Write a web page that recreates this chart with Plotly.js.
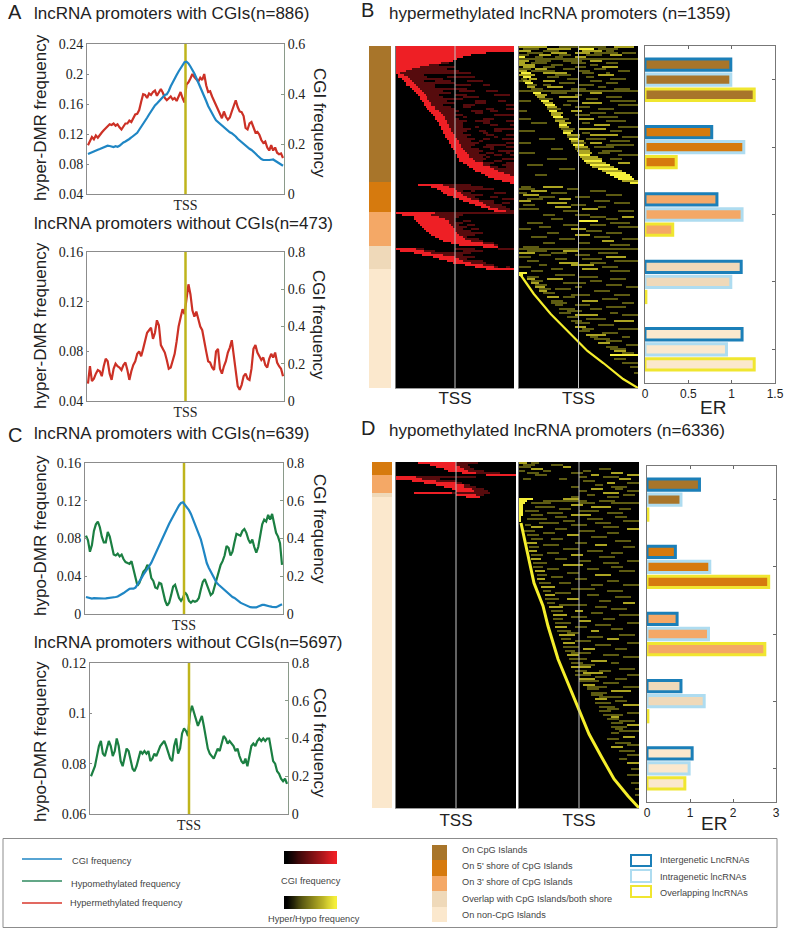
<!DOCTYPE html>
<html>
<head>
<meta charset="utf-8">
<script src="https://cdn.plot.ly/plotly-3.0.1.min.js"></script>
<style>
  html, body { margin: 0; padding: 0; background: #fff; }
  #fig { width: 785px; height: 932px; }
</style>
</head>
<body>
<div id="fig"></div>
<script>
// profile lines, 100 bins across the window around the TSS
const a1Hyper = [.105,.110,.116,.113,.118,.115,.119,.122,.125,.128,.130,.133,.132,.134,.131,.133,.129,.126,.130,.134,.134,.138,.136,.141,.146,.147,.152,.163,.173,.172,.168,.174,.172,.176,.178,.171,.176,.180,.175,.168,.165,.167,.170,.166,.168,.164,.170,.176,.168,.162,.186,.189,.194,.200,.196,.193,.190,.195,.192,.200,.185,.176,.177,.170,.164,.160,.152,.146,.141,.150,.143,.139,.142,.150,.158,.165,.156,.150,.149,.144,.128,.126,.134,.136,.129,.122,.123,.119,.112,.108,.110,.102,.098,.105,.098,.102,.095,.093,.094,.088];
const a1Cgi = [.160,.164,.168,.171,.174,.177,.180,.183,.187,.190,.193,.192,.190,.188,.191,.189,.193,.201,.206,.210,.214,.220,.226,.232,.237,.245,.257,.268,.280,.292,.305,.318,.330,.345,.354,.362,.371,.382,.390,.396,.399,.412,.431,.448,.460,.476,.490,.503,.515,.527,.529,.522,.510,.497,.482,.464,.447,.430,.412,.392,.372,.352,.335,.320,.308,.295,.288,.284,.276,.268,.260,.252,.247,.243,.238,.230,.221,.214,.206,.200,.196,.188,.181,.176,.170,.162,.154,.146,.140,.136,.135,.134,.136,.137,.138,.133,.128,.122,.118,.113];
const a2Hyper = [.054,.068,.056,.058,.062,.065,.064,.060,.068,.074,.072,.062,.057,.066,.070,.068,.067,.065,.069,.071,.065,.057,.064,.069,.072,.078,.080,.076,.082,.088,.095,.097,.099,.090,.095,.105,.101,.085,.082,.079,.073,.066,.067,.072,.078,.088,.100,.107,.114,.110,.124,.134,.126,.113,.108,.112,.106,.100,.097,.087,.080,.072,.071,.067,.065,.080,.082,.066,.062,.068,.072,.079,.083,.089,.075,.062,.052,.049,.053,.060,.062,.058,.057,.066,.082,.085,.079,.076,.073,.075,.069,.067,.074,.078,.075,.079,.071,.068,.066,.060];
const c1Hypo = [.083,.078,.066,.073,.088,.095,.098,.092,.082,.076,.076,.087,.082,.072,.063,.062,.064,.061,.063,.058,.055,.054,.053,.056,.048,.040,.030,.033,.040,.045,.047,.052,.049,.038,.035,.028,.027,.033,.032,.022,.014,.009,.012,.020,.029,.031,.025,.017,.014,.017,.023,.020,.014,.012,.014,.013,.014,.017,.026,.034,.037,.031,.024,.020,.022,.030,.036,.045,.052,.056,.062,.072,.070,.062,.066,.076,.085,.084,.083,.088,.090,.086,.079,.075,.079,.071,.065,.071,.085,.095,.100,.098,.105,.100,.106,.096,.086,.082,.075,.052];
const c1Cgi = [.090,.086,.084,.082,.084,.083,.081,.082,.083,.082,.083,.084,.085,.086,.087,.090,.093,.098,.104,.111,.119,.127,.133,.135,.134,.140,.155,.172,.190,.208,.222,.240,.255,.272,.295,.318,.342,.362,.385,.412,.438,.462,.478,.498,.520,.536,.556,.575,.588,.592,.580,.565,.550,.530,.505,.475,.450,.425,.395,.355,.310,.270,.245,.225,.205,.185,.165,.155,.145,.135,.125,.120,.110,.100,.090,.085,.075,.068,.060,.055,.050,.042,.040,.036,.035,.036,.035,.040,.045,.048,.048,.044,.042,.040,.038,.036,.036,.041,.045,.052];
const c2Hypo = [.075,.077,.079,.083,.087,.089,.084,.083,.086,.089,.087,.083,.085,.090,.087,.081,.079,.083,.086,.085,.081,.078,.077,.079,.082,.085,.084,.085,.084,.085,.081,.082,.084,.083,.085,.087,.088,.089,.087,.084,.082,.081,.087,.090,.084,.086,.092,.094,.093,.091,.100,.103,.100,.098,.095,.097,.099,.095,.091,.086,.084,.083,.082,.084,.086,.085,.088,.091,.090,.088,.089,.088,.087,.085,.086,.083,.081,.080,.082,.079,.083,.087,.088,.087,.089,.090,.089,.090,.089,.090,.090,.086,.081,.080,.077,.076,.074,.073,.074,.072];

const categories = ["On CpG Islands", "On 5' shore of CpG Islands", "On 3' shore of CpG Islands", "Overlap with CpG Islands/both shore", "On non-CpG Islands"];
const typeNames = ["Intergenetic LncRNAs", "Intragenetic lncRNAs", "Overlapping lncRNAs"];

// promoter counts per category (side strips)
const hyperCounts = [540, 119, 135, 91, 473];
const hypoCounts = [0, 238, 330, 71, 5697];

// enrichment ratios, one array per lncRNA type
const hyperErInter = [0.99, 0.77, 0.83, 1.11, 1.12];
const hyperErIntra = [0.99, 1.14, 1.12, 0.99, 0.94];
const hyperErOver = [1.26, 0.36, 0.32, 0.01, 1.26];
const hypoErInter = [1.22, 0.66, 0.70, 0.79, 1.05];
const hypoErIntra = [0.79, 1.46, 1.43, 1.33, 0.98];
const hypoErOver = [0.02, 2.83, 2.74, 0.02, 0.88];

// red heatmap rows: [first bin, end of solid red, end of dark red]
const hyperRedRows = [[0,60,60],[0,60,60],[0,60,60],[0,46,46],[0,38,38],[0,34,34],[0,31,31],[0,29,29],[0,23,27],[0,17,22],[0,12,30],[0,8,26],[0,5,32],[0,2,38],
[1,4,14],[1,6,40],[3,7,24],[4,8,44],[5,9,30],[5,10,48],[7,11,20],[8,12,36],[9,13,52],[10,14,28],[11,15,58],[12,16,42],[12,16,34],[13,17,56],[14,18,46],[14,18,60],[15,20,38],[16,20,60],[17,22,52],[18,23,44],[19,24,60],[20,25,36],[20,25,50],[21,26,60],[22,26,48],[22,27,60],[23,27,42],[23,28,60],[24,28,54],[24,29,47],[25,30,60],[25,30,52],[26,31,60],[27,32,44],[27,32,60],[28,33,56],[28,33,60],[29,34,50],[30,35,60],[30,36,58],[31,37,60],[31,37,48],[32,39,60],[32,40,54],[34,44,60],[36,44,60],[37,48,60],[39,50,60],[40,52,60],[43,55,60],[45,58,60],[47,60,60],[50,60,60],[54,60,60],[58,60,60],
[11,24,38],[18,27,44],[21,30,50],[23,31,40],[24,33,56],[26,34,44],[29,36,52],[32,38,60],[34,42,50],[37,44,58],[40,46,54],[43,48,56],[47,52,58],[50,56,60],
[0,20,60],[3,18,34],[9,22,32],[9,25,30],[10,27,38],[11,27,34],[12,28,40],[13,29,36],[14,30,42],[15,30,38],[17,31,44],[18,32,40],[20,34,36],[22,35,42],[24,38,44],[28,44,50],[32,50,52],[44,52,52],
[0,10,60],[2,14,44],[9,18,38],[13,24,34],[19,30,40],[22,32,36],[26,34,44],[29,38,46],[35,44,50],[40,50,58],[46,60,60]];
const hypoRedRows = [[11,30,41],[17,30,36],[20,32,37],[24,34,39],[26,36,44],[33,40,52],[45,60,60],[0,10,40],[0,13,22],[8,20,30],[14,30,33],[20,34,37],[24,34,40],[28,38,44],[30,39,46],[9,28,47],[30,40,44],[35,42,42]];

// black breaks inside the dark red runs: [row, first bin, end bin]
const hyperRedGaps = [[15,16,26],[17,14,20],[17,28,36],[19,20,30],[19,38,44],[22,24,32],[22,40,46],[24,22,30],[24,36,50],[25,24,34],[27,26,40],[27,46,52],[28,30,40],[29,24,34],[29,40,56],[30,28,34],[31,30,46],[31,50,56],[32,32,38],[32,44,48],[33,30,40],[34,34,50],[35,30,34],[36,32,44],[37,36,40],[37,48,56],[38,34,44],[39,34,48],[39,52,58],[40,34,40],[41,38,50],[42,36,42],[42,46,50],[43,34,44],[44,38,46],[44,50,56],[45,36,50],[46,40,44],[46,48,54],[47,38,42],[48,42,56],[49,40,46],[50,38,44],[50,50,56],[51,42,48],[52,44,52],[53,42,46],[53,50,56],[54,46,50],[54,54,58],[55,44,46],[56,46,54],[57,44,50],[58,50,56],[59,48,54],[60,52,56],[72,34,38],[73,38,50],[75,40,48],[76,42,54],[78,50,54],[87,30,34],[89,32,36],[91,34,38],[101,14,30],[101,40,52],[102,20,34],[110,52,56]];

// yellow heatmap dashes: [row, first bin, end bin, level]
const hyperYellow = [[0,0,14,2],[0,20,44,1],[0,48,58,2],[1,2,10,1],[1,14,26,2],[1,30,38,3],[1,40,50,1],[2,0,6,2],[2,12,20,1],[2,32,42,2],[2,44,48,1],[3,4,12,1],[3,16,24,2],[3,28,36,2],[3,38,50,1],[3,52,59,1],[4,0,5,1],[4,10,16,2],[4,20,26,1],[4,34,42,1],[4,46,52,2],[5,0,3,3],[5,8,12,1],[5,18,22,1],[5,28,34,2],[6,0,60,1],[7,0,5,2],[7,8,16,1],[7,22,32,1],[7,36,42,2],[8,0,3,2],[8,6,14,1],[8,26,34,1],[8,44,50,1],[9,0,8,2],[9,16,22,1],[9,36,40,1],[10,2,8,2],[10,12,18,1],[10,28,34,1],[10,42,50,2],[11,0,6,1],[11,8,14,2],[11,22,28,1],[11,38,44,1],[12,0,4,2],[12,6,18,1],[12,30,36,1],[12,50,56,1],[13,1,6,3],[13,12,24,2],[13,32,38,1],[13,44,46,1],[14,0,8,2],[14,18,26,1],[14,40,48,2],[15,2,6,3],[15,14,20,1],[15,34,38,1],[16,1,4,1],[16,5,9,2],[16,24,30,1],[16,46,54,1],[17,0,2,1],[17,2,6,2],[17,12,18,2],[17,36,42,1],[18,3,7,3],[18,20,28,1],[18,44,50,1],[19,4,9,1],[19,12,16,1],[19,30,38,1],[20,4,8,2],[20,14,22,2],[20,40,44,1],[21,6,12,1],[21,26,34,1],[21,48,56,1],[22,0,60,1],[23,7,11,3],[23,16,24,1],[23,36,42,2],[24,8,14,2],[24,28,32,1],[25,9,13,2],[25,20,30,2],[25,44,52,1],[26,10,17,1],[26,34,40,1],[27,0,6,1],[27,11,15,3],[27,24,30,1],[27,46,59,1],[28,12,17,2],[28,32,42,2],[29,13,18,3],[29,22,26,1],[29,50,60,1],[30,14,19,2],[30,28,36,1],[31,14,21,1],[31,40,48,1],[32,0,4,1],[32,15,19,3],[32,26,32,2],[33,16,22,2],[33,36,44,1],[33,48,60,1],[34,16,21,2],[34,28,36,1],[35,17,22,3],[35,40,50,1],[36,0,6,1],[36,18,25,1],[36,30,38,2],[37,18,23,2],[37,44,54,1],[38,6,14,1],[38,20,26,2],[38,32,36,1],[39,20,24,3],[39,38,46,2],[40,20,25,2],[40,50,60,1],[41,21,28,1],[41,30,44,2],[42,0,8,1],[42,22,27,2],[42,46,52,1],[43,22,26,3],[43,32,36,1],[44,24,31,2],[44,36,50,2],[45,24,31,1],[45,52,60,1],[46,10,18,1],[46,25,30,3],[46,34,44,1],[47,26,33,2],[47,46,56,1],[48,0,6,1],[48,26,34,1],[48,36,42,2],[49,27,33,3],[49,44,58,1],[50,28,35,2],[50,38,48,1],[51,16,22,1],[51,28,36,1],[52,29,36,2],[52,42,52,1],[53,0,8,1],[53,30,37,2],[53,40,46,1],[54,30,36,3],[54,50,60,1],[55,31,40,2],[56,14,24,1],[56,32,42,2],[56,46,52,1],[57,33,42,3],[58,34,44,2],[58,50,56,2],[59,4,12,1],[59,36,46,3],[60,37,48,2],[61,20,28,1],[61,40,50,3],[62,42,52,2],[63,44,54,3],[64,46,56,3],[64,8,14,1],[65,48,57,3],[66,50,58,3],[67,52,60,2],[68,56,60,3],
[70,1,6,1],[70,12,22,2],[71,0,8,1],[71,24,30,1],[72,6,14,2],[72,36,44,1],[73,0,4,1],[73,16,24,1],[74,2,10,2],[74,44,52,1],[75,10,18,1],[75,28,36,1],[76,4,12,1],[76,20,26,2],[77,0,6,2],[77,38,46,1],[78,14,24,2],[78,48,56,1],[79,2,8,1],[79,26,34,1],[80,18,26,2],[80,40,44,1],[81,0,10,1],[81,32,40,2],[82,22,30,1],[82,50,58,1],
[84,12,18,1],[84,28,36,1],[85,36,44,1],[85,52,58,2],[86,16,22,1],[86,44,50,1],[87,30,40,3],[88,4,12,1],[88,46,56,1],[89,22,30,1],[89,36,44,1],[90,10,16,1],[90,50,60,1],[91,0,6,1],[91,26,34,2],[92,34,42,1],[93,14,20,1],[93,44,52,1],[94,28,36,2],[95,6,14,1],[95,38,46,1],[96,20,28,1],[96,52,60,1],[97,42,48,2],[98,12,18,1],[98,30,36,1],[99,46,56,1],[100,2,10,1],
[101,0,60,1],[102,4,14,1],[102,22,30,2],[103,0,8,2],[103,16,24,1],[103,40,50,1],[104,10,16,1],[104,28,36,1],[105,0,6,1],[105,44,54,2],[106,18,24,1],[106,32,42,1],[107,4,10,1],[107,48,60,1],[108,20,30,2],[108,36,44,1],[109,10,14,1],[109,26,38,2],[110,0,6,1],[110,42,50,1],[111,16,22,1],[111,32,40,2],[112,6,12,1],[112,46,56,1],[113,0,4,3],
[114,0,2,3],[114,18,28,1],[115,4,10,1],[115,30,40,1],[116,4,8,2],[116,14,22,2],[116,46,54,1],[117,6,12,1],[117,36,42,1],[118,6,10,2],[118,22,34,1],[119,8,14,1],[119,44,52,1],[120,8,13,2],[120,28,32,1],[120,54,60,1],[121,10,16,1],[121,18,26,1],[122,10,14,2],[122,38,46,1],[123,12,18,1],[124,26,36,1],[124,48,56,1],[125,14,20,2],[125,22,28,1],[126,42,50,1],[127,16,22,1],[127,32,40,2],[128,16,24,1],[128,52,58,1],[129,18,22,1],[129,28,36,1],[130,44,54,1],[131,20,28,1],[131,36,42,1],[132,24,32,1],[133,20,26,1],[133,46,50,1],[134,28,40,2],[134,52,60,1],[135,24,30,1],[136,34,44,1],[137,26,32,1],[137,48,58,2],[138,28,36,1],[139,40,48,1],[140,28,34,2],[141,32,38,1],[141,50,60,1],[142,30,36,1],[143,42,50,1],[144,34,44,2],[145,36,40,1],[145,52,56,1],[146,38,46,1],[147,44,52,1],[148,40,46,2],[149,54,60,1],[150,44,50,1],[151,46,54,1],[152,48,54,2],[153,52,58,1],[154,46,60,3],[156,48,54,1],[158,52,60,1],[160,56,60,1],[163,58,60,1]];

const hypoYellow = [[0,0,4,2],[0,6,10,1],[1,2,8,1],[1,16,22,1],[2,0,6,1],[2,22,26,2],[3,6,12,2],[3,40,46,1],[4,0,3,1],[4,12,16,1],[4,32,36,1],[5,4,10,1],[5,26,32,1],[5,46,52,2],[6,8,14,1],[6,36,40,2],[6,54,60,2],[7,30,34,1],[7,42,50,1],[8,2,6,1],[8,20,24,1],[8,50,56,2],[9,32,38,1],[10,44,48,2],[10,54,60,1],[11,38,42,1],[12,26,30,1],[12,46,54,1],[13,36,42,2],[13,48,52,1],[14,30,34,1],[14,54,60,1],[15,42,50,2],[16,34,38,1],[16,52,58,1],[17,26,30,1],[17,44,50,1],
[18,0,7,3],[18,22,30,2],[19,0,4,3],[19,12,34,1],[19,40,48,1],[20,0,3,3],[20,6,16,1],[20,30,38,1],[20,46,60,1],[21,0,2,3],[21,26,32,2],[22,0,2,3],[22,8,18,1],[22,36,46,2],[23,0,2,3],[23,20,26,1],[23,50,56,1],[24,0,2,3],[24,3,10,1],[24,30,40,1],[25,0,2,3],[25,14,22,1],[25,44,52,1],[26,0,2,3],[26,6,12,1],[26,26,36,2],[27,0,1,3],[27,18,24,1],[27,48,54,1],[28,0,1,3],[28,4,14,1],[28,34,42,1],[29,0,1,3],[29,22,28,1],[29,52,60,1],[30,10,20,1],[30,38,46,1],[31,3,6,1],[31,26,34,1],[32,6,12,2],[32,42,50,1],[33,18,24,1],[33,54,60,2],[34,2,8,1],[34,30,38,1],[35,12,18,1],[35,44,50,1],[36,4,10,1],[36,24,30,2],[37,36,44,1],[38,6,12,1],[38,16,22,1],[39,48,56,1],[40,4,9,2],[40,28,34,1],[41,12,20,1],[41,38,44,2],[42,5,10,1],[42,52,58,1],[43,22,30,1],[44,5,9,2],[44,34,42,1],[45,14,20,1],[45,46,52,1],[46,6,12,1],[46,26,32,2],[47,40,48,1],[48,6,11,2],[48,18,24,1],[49,30,36,1],[49,54,60,1],[50,7,14,1],[50,42,50,1],[51,22,32,2],[52,7,12,1],[52,46,52,1],[53,14,20,1],[53,34,40,1],[54,8,13,2],[54,50,58,1],[55,24,30,1],[56,9,14,1],[56,38,46,2],[57,16,22,1],[58,9,13,2],[58,28,34,1],[59,44,50,1],[60,10,16,1],[60,20,26,1],[61,36,42,1],[61,52,60,1],[62,11,18,2],[63,26,38,1],[64,12,16,1],[64,44,52,1],[65,18,26,1],[66,13,18,2],[66,34,40,1],[67,48,56,1],[68,13,20,1],[68,24,30,2],[69,40,46,1],[70,14,18,1],[70,52,58,2],[71,20,34,1],[72,15,22,2],[72,38,44,1],[73,46,54,1],[74,16,22,1],[74,28,32,2],[75,36,42,1],[76,17,24,2],[76,50,60,1],[77,26,34,1],[78,17,22,1],[78,42,48,1],[79,30,36,2],[80,18,26,1],[80,54,60,1],[81,38,46,1],[82,18,24,2],[82,28,34,1],[83,46,52,1],[84,19,26,1],[84,36,40,2],[85,24,30,1],[86,20,28,2],[86,50,58,1],[87,34,42,1],[88,21,26,1],[88,44,50,2],[89,28,36,1],[90,22,28,2],[90,54,60,1],[91,38,46,1],[92,22,30,1],[93,32,38,2],[93,48,54,1],[94,23,28,1],[95,26,36,1],[96,24,30,2],[96,42,50,1],[97,52,60,1],[98,25,34,1],[99,36,44,2],[100,26,32,1],[100,46,50,1],[101,30,38,1],[102,26,36,2],[103,50,58,1],[104,28,34,1],[104,40,46,1],[105,32,42,2],[106,28,36,1],[106,54,60,1],[107,38,44,1],[108,30,38,2],[108,48,54,1],[109,30,40,1],[110,42,50,1],[111,32,38,2],[112,34,44,1],[112,52,60,1],[113,34,40,1],[114,46,56,2],[115,36,44,1],[116,36,42,1],[117,40,52,1],[118,38,44,2],[119,48,54,1],[120,38,46,1],[121,52,60,2],[122,40,48,1],[123,44,50,1],[124,40,46,1],[125,54,60,1],[126,42,52,1],[127,46,50,2],[128,44,50,1],[129,50,58,1],[130,46,52,1],[131,54,60,2],[132,46,54,1],[133,48,52,1],[134,50,60,1],[135,46,50,1],[137,52,58,2],[138,44,50,1],[140,48,56,1],[141,54,60,1],[142,46,52,2],[144,50,58,1],[146,54,60,1],[148,50,54,1],[150,54,60,2],[153,56,60,1],[156,54,60,1],[160,56,60,1],[163,58,60,1],[166,58,60,1]];

// bright leading edge of the yellow heatmaps, in heatmap bins
const hyperEdgeCol = [0, 7, 15.5, 24, 34, 42, 52, 59.5];
const hyperEdgeRow = [113.5, 123.5, 133.5, 142, 152, 158, 166, 170.5];
const hypoEdgeCol = [0.5, 4, 7, 11.5, 14, 19, 24, 30.5, 34.5, 40.5, 47, 54, 60];
const hypoEdgeRow = [30, 46.5, 60, 71.5, 81.5, 98, 110, 126.5, 135.5, 146.5, 158, 166.5, 173];

const gradientStops = [0, .1, .2, .3, .4, .5, .6, .7, .8, .9, 1];

const W = 785, H = 932;
const BLUE = "#1f86c4", GREEN = "#1b7f42", RED = "#cc3126", OLIVE = "#bfb41c";
const catColors = ["#a8752a", "#d67a0e", "#f4a866", "#efd9b9", "#fbe8cd"];
const typeColors = ["#1b7fb8", "#aedcf0", "#f0e630"];
const redScale = [[0, "#000"], [1, "#ee1f25"]];
const yellowScale = [[0, "#000"], [0.33, "#5c5a12"], [0.66, "#aaa322"], [1, "#f5ef3a"]];
const catScale = catColors.map((c, i) => [[i / 4, c]]).flat();

const traces = [];
const layout = {
  width: W, height: H,
  margin: { l: 0, r: 0, t: 0, b: 0, pad: 0 },
  paper_bgcolor: "#fff", plot_bgcolor: "rgba(0,0,0,0)",
  showlegend: false,
  barmode: "group", bargap: 0.33, bargroupgap: 0.25,
  annotations: [], shapes: []
};

let nx = 0, ny = 0;
function suf(n) { return n === 1 ? "" : String(n); }

// box = [left, top, right, bottom] in pixels
function addX(box, opts) {
  nx++;
  layout["xaxis" + suf(nx)] = Object.assign({
    domain: [box[0] / W, box[2] / W], showgrid: false, zeroline: false, anchor: "y" + suf(ny + 1)
  }, opts);
  return "x" + suf(nx);
}
function addY(box, opts) {
  ny++;
  layout["yaxis" + suf(ny)] = Object.assign({
    domain: [1 - box[3] / H, 1 - box[1] / H], showgrid: false, zeroline: false
  }, opts);
  return "y" + suf(ny);
}

function text(str, x, y, size, opts) {
  layout.annotations.push(Object.assign({
    text: str, x: x / W, y: 1 - y / H, xref: "paper", yref: "paper",
    xanchor: "left", yanchor: "middle", showarrow: false,
    font: { family: "Liberation Sans", size: size, color: "#222" }
  }, opts));
}

const serifTicks = { family: "Liberation Serif", size: 14, color: "#222" };
const AXIS = "#8c8c8c";

function profilePanel(box, leftRange, leftTicks, rightRange, rightTicks, leftLines, rightLines) {
  const xa = addX(box, {
    range: [-50, 50], tickvals: [0], ticktext: ["TSS"], ticks: "", tickfont: serifTicks,
    showline: true, mirror: true, linecolor: AXIS, ticklabelstandoff: -2
  });
  const ya = addY(box, {
    range: leftRange, tickvals: leftTicks, ticktext: leftTicks.map(String), tickfont: serifTicks,
    ticks: "inside", ticklen: 2, tickcolor: AXIS, showline: true, linecolor: AXIS
  });
  layout["xaxis" + suf(nx)].anchor = ya;
  const yb = addY(box, {
    range: rightRange, tickvals: rightTicks, ticktext: rightTicks.map(String), tickfont: serifTicks,
    ticks: "inside", ticklen: 3, tickcolor: "#8a9a8a", showline: true, linecolor: "#8a9a8a",
    side: "right", overlaying: ya, anchor: xa
  });
  layout["yaxis" + suf(ny - 1)].anchor = xa;
  leftLines.forEach(l => traces.push(lineTrace(l[0], l[1], xa, ya)));
  rightLines.forEach(l => traces.push(lineTrace(l[0], l[1], xa, yb)));
  if (!rightLines.length) traces.push({ type: "scatter", mode: "lines", x: [null], y: [null], xaxis: xa, yaxis: yb, hoverinfo: "skip" });
  traces.push({ type: "scatter", mode: "lines", x: [0, 0], y: leftRange, xaxis: xa, yaxis: ya, line: { color: OLIVE, width: 2.5 }, hoverinfo: "skip" });
}

function lineTrace(vals, color, xa, ya) {
  return {
    type: "scatter", mode: "lines", xaxis: xa, yaxis: ya,
    x: vals.map((v, i) => (i - (vals.length - 1) / 2)),
    y: vals, line: { color: color, width: 2.2 }, hoverinfo: "skip"
  };
}

function emptyGrid(rows, cols) {
  return Array.from({ length: rows }, () => new Array(cols).fill(0));
}

function heatPanel(box, z, scale, zmax, standoff, edge) {
  const rows = z.length, cols = z[0].length;
  const tickFont = { family: "Liberation Sans", size: 17, color: "#222" };
  const xa = addX(box, {
    range: [-0.5, cols - 0.5], tickvals: [(cols - 1) / 2], ticktext: ["TSS"], ticks: "", tickfont: tickFont,
    showline: true, linecolor: "#999", ticklabelstandoff: standoff
  });
  const ya = addY(box, {
    range: [rows - 0.5, -0.5], showticklabels: false, ticks: "", showline: true, linecolor: "#777", anchor: xa
  });
  traces.push({ type: "heatmap", z: z, xaxis: xa, yaxis: ya, colorscale: scale, zmin: 0, zmax: zmax, showscale: false, hoverinfo: "skip" });
  if (edge) {
    traces.push({ type: "scatter", mode: "lines", x: edge[0], y: edge[1], xaxis: xa, yaxis: ya, line: { color: "#f5ee2c", width: edge[2] }, hoverinfo: "skip" });
  }
  traces.push({ type: "scatter", mode: "lines", x: [(cols - 1) / 2, (cols - 1) / 2], y: [-0.5, rows - 0.5], xaxis: xa, yaxis: ya, line: { color: "#c4c4c4", width: 1 }, hoverinfo: "skip" });
}

function redGrid(rows, cols, table, gaps) {
  const z = emptyGrid(rows, cols);
  table.forEach((r, i) => {
    for (let c = r[0]; c < r[2] && c < cols; c++) z[i][c] = c < r[1] ? 1 : 0.36;
  });
  gaps.forEach(g => {
    for (let c = g[1]; c < g[2]; c++) if (z[g[0]][c] < 1) z[g[0]][c] = 0;
  });
  return z;
}

function yellowGrid(rows, cols, dashes) {
  const z = emptyGrid(rows, cols);
  dashes.forEach(d => {
    for (let c = d[1]; c < d[2] && c < cols; c++) z[d[0]][c] = d[3];
  });
  return z;
}

function sideStrip(box, counts) {
  const edges = [0];
  counts.forEach(n => edges.push(edges[edges.length - 1] + n));
  const xa = addX(box, { range: [0, 1], visible: false });
  const ya = addY(box, { range: [edges[edges.length - 1], 0], visible: false, anchor: xa });
  traces.push({
    type: "heatmap", x: [0, 1], y: edges, z: counts.map((n, i) => [i]),
    xaxis: xa, yaxis: ya, colorscale: catScale, zmin: 0, zmax: 4, showscale: false, hoverinfo: "skip"
  });
}

function erPanel(box, range, ticks, inter, intra, over) {
  const xa = addX(box, {
    range: range, tickvals: ticks, ticktext: ticks.map(String), ticks: "inside", ticklen: 3, tickcolor: "#666",
    tickfont: { family: "Liberation Sans", size: 12, color: "#222" },
    showline: true, mirror: "ticks", linecolor: "#777"
  });
  const ya = addY(box, {
    type: "category", categoryorder: "array", categoryarray: categories, autorange: "reversed",
    side: "right", showticklabels: false, ticks: "inside", ticklen: 3, tickcolor: "#666",
    showline: true, mirror: true, linecolor: "#777", anchor: xa
  });
  [inter, intra, over].forEach((vals, i) => traces.push({
    type: "bar", orientation: "h", name: typeNames[i], x: vals, y: categories, xaxis: xa, yaxis: ya,
    marker: { color: catColors, line: { color: typeColors[i], width: 3 } }, hoverinfo: "skip"
  }));
}

// A and C
profilePanel([87, 44, 284, 194], [.04, .24], [.04, .08, .12, .16, .2, .24], [0, .6], [0, .2, .4, .6], [[a1Hyper, RED]], [[a1Cgi, BLUE]]);
profilePanel([87, 252, 284, 401], [.04, .16], [.04, .08, .12, .16], [0, .8], [0, .2, .4, .6, .8], [[a2Hyper, RED]], []);
profilePanel([85, 463, 283, 614], [0, .16], [0, .04, .08, .12, .16], [0, .8], [0, .2, .4, .6, .8], [[c1Hypo, GREEN]], [[c1Cgi, BLUE]]);
profilePanel([90, 663, 288, 814], [.06, .12], [.06, .08, .1, .12], [0, .8], [0, .2, .4, .6, .8], [[c2Hypo, GREEN]], []);

// B
sideStrip([369, 46, 391, 388], hyperCounts);
heatPanel([396, 46, 514, 388], redGrid(171, 60, hyperRedRows, hyperRedGaps), redScale, 1, -5);
heatPanel([519, 46, 638, 388], yellowGrid(171, 60, hyperYellow), yellowScale, 3, -5, [hyperEdgeCol, hyperEdgeRow, 2.2]);
erPanel([645, 46, 775, 383], [0, 1.5], [0, 0.5, 1, 1.5], hyperErInter, hyperErIntra, hyperErOver);

// D
sideStrip([372, 462, 392, 808], hypoCounts);
heatPanel([396, 462, 516, 808], redGrid(173, 60, hypoRedRows, []), redScale, 1, -3);
heatPanel([519, 462, 639, 808], yellowGrid(173, 60, hypoYellow), yellowScale, 3, -3, [hypoEdgeCol, hypoEdgeRow, 3]);
erPanel([647, 466, 776, 802], [0, 3], [0, 1, 2, 3], hypoErInter, hypoErIntra, hypoErOver);

// legend gradients and category swatches
function gradient(box) {
  const xa = addX(box, { range: [-0.5, gradientStops.length - 0.5], visible: false });
  const ya = addY(box, { range: [-0.5, 0.5], visible: false, anchor: xa });
  return [xa, ya];
}
let ax = gradient([284, 851, 337, 864]);
traces.push({ type: "heatmap", z: [gradientStops], zsmooth: "best", xaxis: ax[0], yaxis: ax[1], colorscale: redScale, zmin: 0, zmax: 1, showscale: false, hoverinfo: "skip" });
ax = gradient([284, 896, 337, 909]);
traces.push({ type: "heatmap", z: [gradientStops], zsmooth: "best", xaxis: ax[0], yaxis: ax[1], colorscale: yellowScale, zmin: 0, zmax: 1, showscale: false, hoverinfo: "skip" });
sideStrip([432, 845, 447, 922], [1, 1, 1, 1, 1]);

function rectShape(x0, y0, x1, y1, color, width) {
  layout.shapes.push({
    type: "rect", xref: "paper", yref: "paper", x0: x0 / W, x1: x1 / W, y0: 1 - y0 / H, y1: 1 - y1 / H,
    line: { color: color, width: width }, fillcolor: "rgba(0,0,0,0)"
  });
}
function lineShape(x0, x1, y, color) {
  layout.shapes.push({
    type: "line", xref: "paper", yref: "paper", x0: x0 / W, x1: x1 / W, y0: 1 - y / H, y1: 1 - y / H,
    line: { color: color, width: 1.5 }
  });
}
rectShape(3, 838.5, 777, 927.5, "#8c8c8c", 1);
lineShape(22, 62, 859, BLUE);
lineShape(22, 62, 881, "#2f8a5f");
lineShape(22, 62, 903, "#d9372c");
rectShape(631, 855, 651, 866, typeColors[0], 2);
rectShape(631, 870, 651, 882, typeColors[1], 2);
rectShape(631, 886, 651, 897, typeColors[2], 2);

// panel letters and titles
const TITLE = 17;
text("A", 6, 12, 20);
text("lncRNA promoters with CGIs(n=886)", 32, 13, TITLE);
text("lncRNA promoters without CGIs(n=473)", 32, 224, TITLE);
text("C", 6, 435, 20);
text("lncRNA promoters with CGIs(n=639)", 32, 433, TITLE);
text("lncRNA promoters without CGIs(n=5697)", 32, 642, TITLE);
text("B", 359, 10, 20);
text("hypermethylated lncRNA promoters (n=1359)", 387, 13, TITLE);
text("D", 359, 428, 20);
text("hypomethylated lncRNA promoters (n=6336)", 387, 431, TITLE);
text("ER", 713, 407, 19, { xanchor: "center" });
text("ER", 714, 823, 19, { xanchor: "center" });

// rotated axis titles
function sideTitle(str, x, y, angle) {
  text(str, x, y, 17, { xanchor: "center", textangle: angle });
}
sideTitle("hyper-DMR frequency", 40, 118, -90);
sideTitle("CGI frequency", 319, 123, 90);
sideTitle("hyper-DMR frequency", 40, 326, -90);
sideTitle("CGI frequency", 319, 325, 90);
sideTitle("hypo-DMR frequency", 40, 536, -90);
sideTitle("CGI frequency", 320, 529, 90);
sideTitle("hypo-DMR frequency", 40, 742, -90);
sideTitle("CGI frequency", 320, 743, 90);

// legend labels
const LEG = 9.2, legFont = { family: "Liberation Sans", size: LEG, color: "#444" };
text("CGI frequency", 70, 861, LEG, { font: legFont });
text("Hypomethylated frequency", 69, 884, LEG, { font: legFont });
text("Hypermethylated frequency", 68, 903, LEG, { font: legFont });
text("CGI frequency", 311, 881, LEG, { font: legFont, xanchor: "center" });
text("Hyper/Hypo frequency", 314, 919, LEG, { font: legFont, xanchor: "center" });
[850, 866, 882, 899, 915].forEach((y, i) => text(categories[i], 460, y, LEG, { font: legFont }));
[860, 877, 893].forEach((y, i) => text(typeNames[i], 658, y, LEG, { font: legFont }));

Plotly.newPlot("fig", traces, layout, { displayModeBar: false, responsive: false });
</script>
</body>
</html>
